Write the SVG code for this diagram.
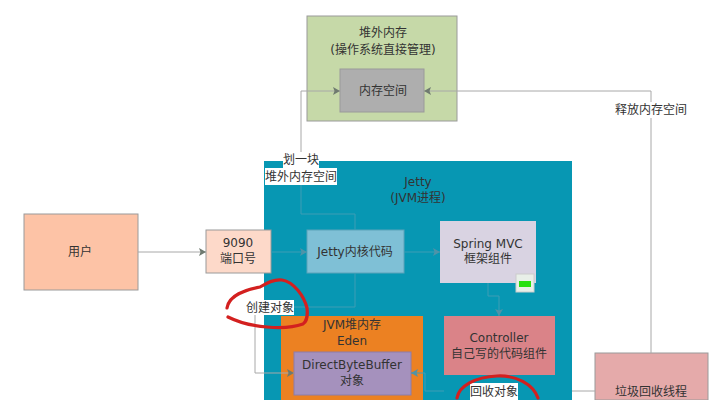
<svg xmlns="http://www.w3.org/2000/svg" width="728" height="400" viewBox="0 0 728 400">
<style>
text{font-family:"DejaVu Sans","Noto Sans CJK SC",sans-serif;font-size:12px;fill:#333;text-anchor:middle}
.n{stroke:#9a9a9a;stroke-width:1}
.l{fill:none;stroke:#a8a8a8;stroke-width:1}
.d{fill:none;stroke:#3f9db5;stroke-width:1}
.r{fill:none;stroke:#d3201f;stroke-width:3.2;stroke-linecap:round;stroke-linejoin:round}
</style>
<defs>
<marker id="a" markerUnits="userSpaceOnUse" markerWidth="8" markerHeight="8" refX="7" refY="4" orient="auto"><path d="M0 0L7 4L0 8L1.5 4Z" fill="#6f7a70"/></marker>
<marker id="b" markerUnits="userSpaceOnUse" markerWidth="8" markerHeight="8" refX="7" refY="4" orient="auto"><path d="M0 0L7 4L0 8L1.5 4Z" fill="#4f93a8"/></marker>
</defs>
<rect width="728" height="400" fill="#fff"/>
<g id="jetty"><rect x="264" y="161" width="308" height="239" fill="#0797b3"/><text x="418" y="186">Jetty</text><text x="418" y="202">(JVM进程)</text></g>
<g id="offheap"><rect class="n" x="307" y="16" width="150" height="105" fill="#c6d9a8"/><text x="383" y="37">堆外内存</text><text x="383" y="54">(操作系统直接管理)</text></g>
<g id="space"><rect class="n" x="340" y="69" width="84" height="43" fill="#aeaeae"/><text x="383" y="95">内存空间</text></g>
<g id="user"><rect class="n" x="24" y="214" width="114" height="76" fill="#fdc3a6"/><text x="80" y="256">用户</text></g>
<g id="port"><rect class="n" x="206" y="230" width="65" height="43" fill="#fdd9c9"/><text x="238" y="247">9090</text><text x="238" y="263">端口号</text></g>
<g id="core"><rect x="307" y="230" width="97" height="43" fill="#7fc0d6" stroke="#5da3ba"/><text x="355" y="256">Jetty内核代码</text></g>
<g id="spring"><rect x="440" y="221" width="96" height="62" fill="#d9d3e2"/><text x="488" y="248">Spring MVC</text><text x="488" y="263">框架组件</text><rect x="516" y="274" width="18" height="18" fill="#e8efe8" stroke="#ccc"/><rect x="519" y="281" width="12" height="6" fill="#28e010"/></g>
<g id="eden"><rect x="281" y="316" width="142" height="84" fill="#ec8122"/><text x="352" y="329">JVM堆内存</text><text x="352" y="345">Eden</text></g>
<g id="dbb"><rect x="294" y="352" width="117" height="43" fill="#a591bd" stroke="#8d7da8"/><text x="352" y="369">DirectByteBuffer</text><text x="352" y="385">对象</text></g>
<g id="controller"><rect x="444" y="316" width="111" height="59" fill="#da8388"/><text x="499" y="342">Controller</text><text x="499" y="358">自己写的代码组件</text></g>
<g id="gc"><rect class="n" x="595" y="353" width="113" height="47" fill="#e5aaaa"/><text x="651" y="396">垃圾回收线程</text></g>
<g id="connectors">
<path class="l" d="M138 252H206" marker-end="url(#a)"/>
<path class="d" d="M271 252H307" marker-end="url(#b)"/>
<path class="d" d="M404 252H440" marker-end="url(#b)"/>
<path class="d" d="M488 283V296H499V316" marker-end="url(#b)"/>
<path class="d" d="M301 185V214H355V230"/>
<path class="d" d="M355 273V307H294"/>
<path class="l" d="M301 160V91H340" marker-end="url(#a)"/>
<path class="l" d="M651 353V91H424" marker-end="url(#a)"/>
<path class="l" d="M255 315V373H294" marker-end="url(#a)"/>
<path class="d" d="M444 391H425V373H411" marker-end="url(#b)"/>
<path class="l" d="M572 391H595"/>
</g>
<g id="labels">
<rect x="283" y="152" width="36" height="16" fill="#fff"/><text x="301" y="164">划一块</text>
<rect x="265" y="168" width="72" height="17" fill="#fff"/><text x="301" y="181">堆外内存空间</text>
<rect x="245" y="300" width="49" height="15" fill="#fff"/><text x="270" y="312">创建对象</text>
<rect x="470" y="383" width="48" height="17" fill="#fff"/><text x="494" y="396">回收对象</text>
<rect x="615" y="102" width="72" height="16" fill="#fff"/><text x="651" y="114">释放内存空间</text>
</g>
<path class="r" d="M227 308C229 295 245 290 260 287C268 282 276 279 282 280C294 282 304 296 307 308C308 316 306 322 303 324C292 328 278 328 267 327C253 326 238 322 228 317"/>
<path class="r" d="M457 398C459 386 475 377 497 376C516 375 533 384 538 398"/>
</svg>
